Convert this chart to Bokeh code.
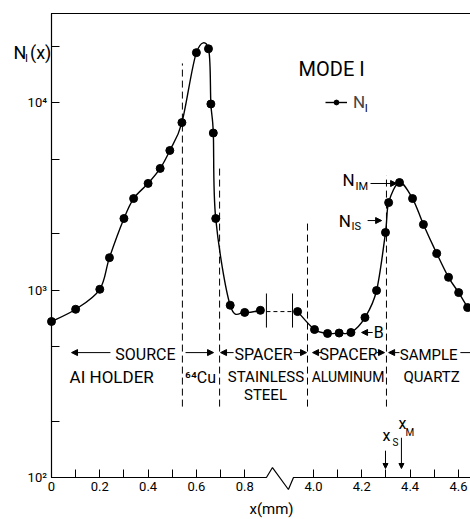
import numpy as np
from bokeh.plotting import figure
from bokeh.models import (FixedTicker, CustomJSTickFormatter, Arrow, NormalHead,
                          Label, Legend, LegendItem)
from bokeh.embed import file_html
from bokeh.resources import INLINE

# ---------------- data ----------------
x_source_mm = [0.0, 0.10, 0.20, 0.24, 0.30, 0.34, 0.40, 0.45, 0.49, 0.54,
               0.60, 0.65, 0.66, 0.67, 0.68, 0.74, 0.80, 0.865]
n_source = [680, 790, 1010, 1490, 2410, 3080, 3710, 4460, 5560, 7830,
            18500, 19400, 9840, 6890, 2410, 830, 760, 780]

x_sample_mm = [3.934, 4.004, 4.058, 4.106, 4.155, 4.213, 4.261, 4.298,
               4.311, 4.356, 4.410, 4.455, 4.510, 4.559, 4.601, 4.638]
n_sample = [768, 616, 587, 590, 594, 714, 995, 2030,
            2930, 3750, 3080, 2240, 1570, 1170, 970, 807]

boundary_mm = [0.542, 0.696, 3.975, 4.302]
boundary_top = [16200, 4510, 2300, 4090]
boundary_bottom = 239

x_tick_mm = [0.0, 0.1, 0.2, 0.3, 0.4, 0.5, 0.6, 0.7, 0.8,
             4.0, 4.1, 4.2, 4.3, 4.4, 4.5, 4.6]
x_tick_labels = ["0", "", "0.2", "", "0.4", "", "0.6", "", "0.8",
                 "4.0", "", "4.2", "", "4.4", "", "4.6"]
y_tick_values = [100, 1000, 10000]
y_tick_labels = ["10\u00b2", "10\u00b3", "10\u2074"]
y_minor_ticks = [200, 500, 2000, 5000, 20000]

# ---------------- broken x axis mapping ----------------
SHIFT = 2.915          # 4.0 mm is drawn right after 0.9 mm


def xp(v):
    return v if v < 2 else v - SHIFT


def xps(vs):
    return [xp(v) for v in vs]


W, H = 470, 519
PXMM = 241.5           # pixels per mm
PXDEC = 187.4          # pixels per decade
ORIG_X, ORIG_Y = 51, 477   # pixel of (0 mm, 1e2)
XC0 = -ORIG_X / PXMM
XC1 = (W - ORIG_X) / PXMM
YC0 = 10 ** (2 - (H - ORIG_Y) / PXDEC)
YC1 = 10 ** (2 + ORIG_Y / PXDEC)
X_SPINE = -0.5 / PXMM
Y_TOP = 10 ** (2 + (ORIG_Y - 13) / PXDEC)

FONT = "Roboto"

p = figure(width=W, height=H, x_range=(XC0, XC1), y_range=(YC0, YC1),
           y_axis_type="log", output_backend="svg", toolbar_location=None,
           min_border=0)
p.title.visible = False
p.outline_line_color = None
p.xgrid.visible = False
p.ygrid.visible = False
p.background_fill_color = "white"
p.border_fill_color = "white"

# x axis (fixed at N = 1e2)
xa = p.xaxis[0]
xa.fixed_location = 100
xa.bounds = (X_SPINE, XC1)
xa.ticker = FixedTicker(ticks=xps(x_tick_mm))
xa.formatter = CustomJSTickFormatter(args=dict(pos=xps(x_tick_mm), labels=x_tick_labels), code="""
let best = 0, d = 1e9;
for (let i = 0; i < pos.length; i++) { const dd = Math.abs(pos[i] - tick); if (dd < d) { d = dd; best = i; } }
return labels[best];
""")
xa.axis_line_color = None
xa.major_tick_in = 8
xa.major_tick_out = 0
xa.minor_tick_line_color = None
xa.major_tick_line_color = "black"
xa.major_label_text_font = FONT
xa.major_label_text_font_size = "13px"
xa.major_label_text_color = "black"
xa.major_label_standoff = 4

# y axis (fixed at the left spine)
ya = p.yaxis[0]
ya.fixed_location = X_SPINE
ya.bounds = (100, Y_TOP)
ya.ticker = FixedTicker(ticks=y_tick_values, minor_ticks=y_minor_ticks)
ya.formatter = CustomJSTickFormatter(args=dict(pos=y_tick_values, labels=y_tick_labels), code="""
let best = 0, d = 1e9;
for (let i = 0; i < pos.length; i++) { const dd = Math.abs(Math.log10(pos[i]) - Math.log10(tick)); if (dd < d) { d = dd; best = i; } }
return labels[best];
""")
ya.axis_line_color = "black"
ya.axis_line_width = 1.2
ya.major_tick_in = 8
ya.major_tick_out = 0
ya.minor_tick_in = 8
ya.minor_tick_out = 0
ya.major_tick_line_color = "black"
ya.minor_tick_line_color = "black"
ya.major_label_text_font = FONT
ya.major_label_text_font_size = "13px"
ya.major_label_text_color = "black"
ya.major_label_standoff = 4

# top border
p.segment(x0=[X_SPINE], y0=[Y_TOP], x1=[XC1], y1=[Y_TOP], line_color="black", line_width=1.2)

# bottom axis line with the break zig-zag
zig_x = [X_SPINE, 0.890, 0.915, 0.981, 1.002, XC1]
zig_y = [100, 100, 113, 86.3, 100, 100]
p.line(zig_x, zig_y, line_color="black", line_width=1.2)


# ---------------- smooth curve via Bezier segments ----------------
def bezier_parts(xs, ys):
    P = np.stack([np.array(xps(xs)), np.log10(np.array(ys, float))], axis=1)
    Pm = np.vstack([P[0], P, P[-1]])
    out = {k: [] for k in ["x0", "y0", "x1", "y1", "cx0", "cy0", "cx1", "cy1"]}
    for i in range(len(P) - 1):
        a, b, c, d = Pm[i], Pm[i + 1], Pm[i + 2], Pm[i + 3]
        c1 = b + (c - a) / 6.0
        c2 = c - (d - b) / 6.0
        out["x0"].append(b[0]); out["y0"].append(10 ** b[1])
        out["x1"].append(c[0]); out["y1"].append(10 ** c[1])
        out["cx0"].append(c1[0]); out["cy0"].append(10 ** c1[1])
        out["cx1"].append(c2[0]); out["cy1"].append(10 ** c2[1])
    return out


for xs, ys in [(x_source_mm, n_source), (x_sample_mm, n_sample)]:
    bz = bezier_parts(xs, ys)
    rb = p.bezier(x0=bz["x0"], y0=bz["y0"], x1=bz["x1"], y1=bz["y1"],
                  cx0=bz["cx0"], cy0=bz["cy0"], cx1=bz["cx1"], cy1=bz["cy1"],
                  line_color="black", line_width=1.4)

rs = p.scatter(xps(x_source_mm + x_sample_mm), n_source + n_sample, size=8,
               fill_color="black", line_color="black")

# data break marker on the curve
bar_x = [0.890, xp(3.913)]
p.segment(x0=bar_x, y0=[631, 631], x1=bar_x, y1=[959, 959], line_color="black", line_width=1)
p.segment(x0=[bar_x[0]], y0=[768], x1=[bar_x[1]], y1=[768], line_color="black",
          line_width=1, line_dash="4 3")

# region boundaries
p.segment(x0=xps(boundary_mm), y0=[boundary_bottom] * 4, x1=xps(boundary_mm), y1=boundary_top,
          line_color="black", line_width=1, line_dash="7 4")


def lab(text, x, y, size, align="left", baseline="middle"):
    p.add_layout(Label(x=x, y=y, text=text, text_font=FONT, text_font_size=size,
                       text_align=align, text_baseline=baseline, text_color="black"))


def arr(xa_, ya_, xb_, yb_, size=6):
    p.add_layout(Arrow(end=NormalHead(size=size, fill_color="black", line_color="black"),
                       x_start=xa_, y_start=ya_, x_end=xb_, y_end=yb_,
                       line_color="black", line_width=1))


ROW1, ROW2, ROW3, AROW = 453, 342, 274, 464
lab("SOURCE", xp(0.389), ROW1, "16px", "center")
arr(xp(0.244), AROW, xp(0.083), AROW)
arr(xp(0.555), AROW, xp(0.671), AROW)
lab("AI HOLDER", xp(0.075), ROW2, "17px")
lab("\u2076\u2074Cu", xp(0.553), ROW2, "16px")

lab("SPACER", xp(0.878), ROW1, "16px", "center")
arr(xp(0.754), AROW, xp(0.700), AROW)
arr(xp(3.917), AROW, xp(3.971), AROW)
lab("STAINLESS", xp(0.888), ROW2, "15px", "center")
lab("STEEL", xp(0.886), ROW3, "15px", "center")

lab("SPACER", xp(4.145), ROW1, "16px", "center")
arr(xp(4.033), AROW, xp(3.996), AROW)
arr(xp(4.261), AROW, xp(4.294), AROW)
lab("ALUMINUM", xp(4.143), ROW2, "14px", "center")

lab("SAMPLE", xp(4.477), ROW1, "15px", "center")
arr(xp(4.356), AROW, xp(4.311), AROW)
arr(xp(4.608), AROW, xp(4.70), AROW)
lab("QUARTZ", xp(4.489), ROW2, "15px", "center")

lab("B", xp(4.249), 594, "16px")
arr(xp(4.245), 594, xp(4.199), 594)

lab("N", xp(4.120), 3845, "17px")
lab("IM", xp(4.174), 3573, "11px")
arr(xp(4.236), 3706, xp(4.344), 3706)
lab("N", xp(4.104), 2350, "17px")
lab("IS", xp(4.157), 2183, "11px")
arr(xp(4.224), 2350, xp(4.282), 2350)

lab("MODE I", xp(3.938), 15200, "20px")

# y axis title
lab("N", -0.157, 18530, "18px")
lab("I", -0.110, 17220, "11px")
lab("(x)", -0.089, 18530, "18px")

# x axis title and markers
lab("x(mm)", 0.911, 68.3, "15px", "center")
lab("x", xp(4.286), 167.6, "16px")
lab("S", xp(4.327), 153.8, "10px")
arr(xp(4.298), 139, xp(4.298), 111.7, 5)
lab("x", xp(4.352), 194, "16px")
lab("M", xp(4.381), 174, "10px")
arr(xp(4.364), 163, xp(4.364), 111.7, 5)

# legend
leg = Legend(items=[LegendItem(label="N", renderers=[rb, rs])], location=(325, 407),
             border_line_color=None, background_fill_alpha=0, padding=0, margin=0,
             glyph_width=22, glyph_height=12, label_standoff=6, spacing=0,
             label_text_font=FONT, label_text_font_size="17px")
p.add_layout(leg)
lab("I", xp(4.212), 9300, "11px")

open("out.html", "w").write(file_html(p, INLINE))
